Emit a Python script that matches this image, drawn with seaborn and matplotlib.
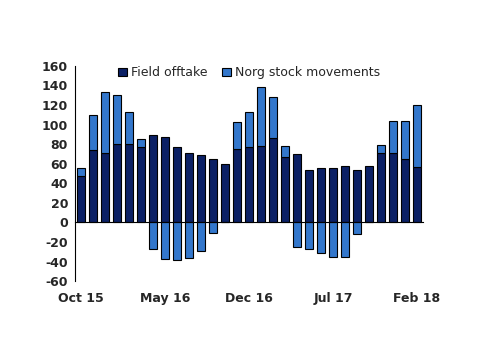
#!/usr/bin/env python3

import numpy as np
import pandas
import seaborn as sns
import matplotlib.pyplot as plt

# Monthly values, Oct 15 .. Feb 18
months = pandas.date_range("2015-10-01", "2018-02-01", freq="MS").strftime("%b %y").tolist()
field_offtake = [
    47, 74, 71, 80, 80, 77, 89, 87, 77, 71, 69, 65, 60, 75, 77,
    78, 86, 67, 70, 54, 56, 56, 58, 54, 58, 71, 71, 65, 57,
]
stock_movements = [
    9, 36, 62, 50, 33, 8, -27, -37, -38, -36, -29, -11, 0, 28, 36,
    60, 42, 11, -25, -27, -31, -35, -35, -12, 0, 8, 33, 39, 63,
]
yticks = list(range(-60, 161, 20))

NAVY = "#0B2065"
LIGHT = "#3377CC"


def main():
    df = pandas.DataFrame(
        {"month": months, "offtake": field_offtake, "stock": stock_movements}
    )
    # Excel-style stacking: positive stock on top of offtake, negative below zero
    df["stock_bottom"] = np.where(df.stock > 0, df.offtake, 0)

    sns.set_style("white")
    plt.rcParams["font.family"] = ["DejaVu Sans"]
    fig = plt.figure(figsize=(5, 3.54), dpi=100)
    ax = fig.add_axes([0.15, 0.206, 0.696, 0.608])

    sns.barplot(
        data=df, x="month", y="offtake", color=NAVY, saturation=1,
        width=0.65, edgecolor="black", linewidth=0.8, ax=ax,
        label="Field offtake",
    )
    sns.barplot(
        data=df, x="month", y="stock", color=LIGHT, saturation=1,
        width=0.65, edgecolor="black", linewidth=0.8, ax=ax,
        bottom=df.stock_bottom.values, label="Norg stock movements",
    )

    ax.set_ylim(-60, 160)
    ax.set_xlim(-0.5, len(months) - 0.5)
    ax.set_yticks(yticks)
    ax.set_yticklabels([str(t) for t in yticks], fontsize=9, fontweight="bold")
    ax.tick_params(axis="y", length=3, width=0.8, color="black", direction="out", pad=2)
    ax.set_xlabel("")
    ax.set_ylabel("")

    for side in ["top", "right"]:
        ax.spines[side].set_visible(False)
    ax.spines["left"].set_color("black")
    ax.spines["left"].set_linewidth(0.8)
    ax.spines["bottom"].set_position(("data", 0))
    ax.spines["bottom"].set_color("black")
    ax.spines["bottom"].set_linewidth(0.8)

    # tick marks between categories every 7 months, on the zero line
    ax.set_xticks([i - 0.5 for i in range(7, len(months), 7)])
    ax.set_xticklabels([])
    ax.tick_params(axis="x", length=4, width=0.8, color="black", direction="out")

    # labels at the bottom, every 7 months
    sec = ax.secondary_xaxis("bottom")
    sec.set_xticks(list(range(0, len(months), 7)))
    sec.set_xticklabels(
        [months[i] for i in range(0, len(months), 7)], fontsize=9, fontweight="bold"
    )
    sec.tick_params(length=0, pad=8)
    sec.spines["bottom"].set_visible(False)

    ax.legend(
        loc="upper center", bbox_to_anchor=(0.5, 1.05), ncol=2, frameon=False,
        fontsize=9, handlelength=0.7, handleheight=0.7, handletextpad=0.3,
        columnspacing=1.2,
    )

    fig.savefig("out.png", dpi=100)


if __name__ == "__main__":
    main()
